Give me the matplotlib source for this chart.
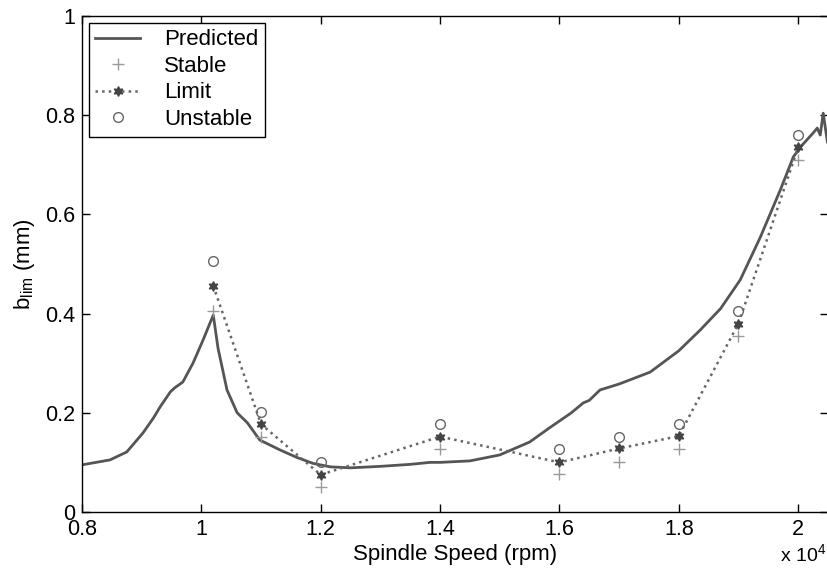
import matplotlib
matplotlib.use('Agg')
import matplotlib.pyplot as plt
from matplotlib.ticker import FuncFormatter, MultipleLocator
import numpy as np

plt.rcParams['font.family'] = ['Liberation Sans', 'DejaVu Sans']
plt.rcParams['mathtext.fontset'] = 'custom'
plt.rcParams['mathtext.rm'] = 'Liberation Sans'

# predicted stability limit (rpm, mm)
pred_speed = [8000, 8470, 8750, 9020, 9200, 9310, 9480, 9550, 9690, 9860, 10030,
              10200, 10280, 10430, 10600, 10770, 10980, 11320, 11600, 11870,
              12160, 12500, 13000, 13500, 13830, 14000, 14500, 15000, 15500,
              15850, 16200, 16400, 16500, 16680, 17000, 17520, 18000, 18360,
              18700, 19030, 19370, 19700, 19920, 20040, 20250, 20320, 20370,
              20420, 20490]
pred_blim = [0.095, 0.105, 0.121, 0.159, 0.19, 0.212, 0.242, 0.25, 0.262,
             0.30, 0.347, 0.397, 0.33, 0.246, 0.20, 0.18, 0.145, 0.125, 0.11,
             0.098, 0.091, 0.089, 0.092, 0.096, 0.10, 0.10, 0.103, 0.115,
             0.141, 0.171, 0.20, 0.22, 0.225, 0.246, 0.258, 0.282, 0.325,
             0.367, 0.41, 0.468, 0.555, 0.649, 0.716, 0.736, 0.764, 0.774,
             0.76, 0.804, 0.746]

# cutting tests
test_speed = [10200, 11000, 12000, 14000, 16000, 17000, 18000, 19000, 20000]
stable = [0.405, 0.152, 0.05, 0.127, 0.077, 0.10, 0.127, 0.355, 0.71]
limit = [0.456, 0.177, 0.075, 0.152, 0.10, 0.128, 0.153, 0.38, 0.735]
unstable = [0.507, 0.202, 0.10, 0.178, 0.127, 0.152, 0.178, 0.405, 0.76]


def fmt(v, pos):
    return '%g' % v


fig = plt.figure(figsize=(8.28, 5.75), dpi=100)
ax = fig.add_axes([0.099, 0.1096, 0.901, 0.8626])

ax.plot(pred_speed, pred_blim, color='#555555', lw=2, label='Predicted')
ax.plot(test_speed, stable, '+', color='#999999', ms=9, mew=1, label='Stable')
ax.plot(test_speed, limit, ':', color='#666666', lw=1.8, marker=(6, 1, 0),
        ms=7, mfc='#444444', mec='#444444', label='Limit')
ax.plot(test_speed, unstable, 'o', color='#666666', mfc='none', ms=7,
        mew=1, label='Unstable')

ax.set_xlim(8000, 20500)
ax.set_ylim(0, 1)
ax.xaxis.set_major_locator(MultipleLocator(2000))
ax.yaxis.set_major_locator(MultipleLocator(0.2))
ax.xaxis.set_major_formatter(FuncFormatter(lambda v, p: '%g' % (v / 1e4)))
ax.yaxis.set_major_formatter(FuncFormatter(fmt))
ax.tick_params(direction='in', top=True, right=True, length=6, width=1,
               labelsize=15.5, colors='black', pad=5)
for s in ax.spines.values():
    s.set_linewidth(1)

ax.set_xlabel('Spindle Speed (rpm)', fontsize=16, labelpad=3)
ax.set_ylabel(r'b$_{\rm lim}$ (mm)', fontsize=16, labelpad=6)
ax.text(0.997, -0.063, r'x 10$^4$', transform=ax.transAxes, ha='right',
        va='top', fontsize=14)

leg = ax.legend(loc='upper left', fontsize=16, fancybox=False, framealpha=1,
                edgecolor='black', borderaxespad=0.3, handlelength=2.0,
                labelspacing=0.25, borderpad=0.3, handletextpad=1.1)
leg.get_frame().set_linewidth(1)

plt.savefig('out.png', dpi=100)
